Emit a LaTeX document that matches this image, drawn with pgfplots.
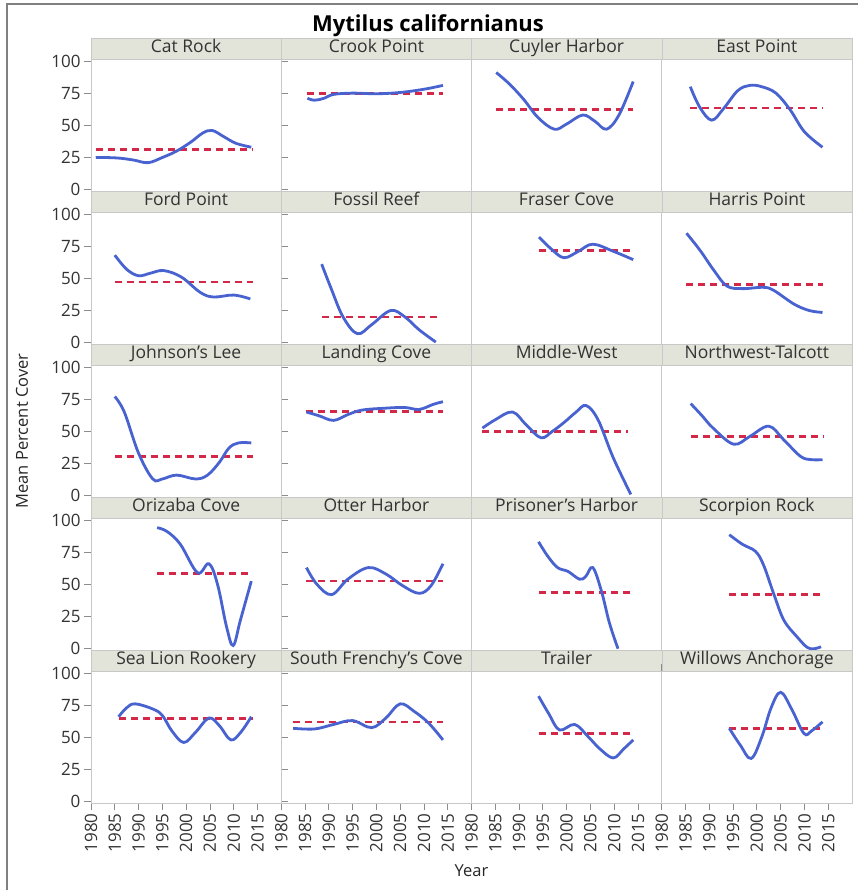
\documentclass[border=0pt]{standalone}
\usepackage{fontspec}
\setmainfont{Open Sans}
\usepackage{pgfplots}
\pgfplotsset{compat=1.18}
\usepgfplotslibrary{groupplots}

\definecolor{curve}{RGB}{72,98,208}
\definecolor{meanred}{RGB}{212,40,72}
\definecolor{strip}{RGB}{226,227,217}
\definecolor{frame}{RGB}{200,200,200}

\pgfplotsset{
  panel/.style={
    scale only axis, width=190.25pt, height=132pt,
    xmin=1980, xmax=2020, ymin=-1, ymax=101.5,
    xtick={1980,1985,...,2015}, ytick={0,25,50,75,100},
    tick align=outside, major tick length=7pt,
    tick style={black!45, line width=0.8pt},
    axis line style={frame, line width=0.8pt},
    /pgf/number format/1000 sep={},
    /pgf/number format/assume math mode=true,
    every tick label/.append style={font=\fontsize{17}{19}\selectfont, text=black!80},
    xticklabel style={rotate=90, anchor=east},
    every axis title/.style={at={(0.5,1)}, anchor=south, fill=strip, draw=frame,
      minimum width=190.25pt, minimum height=21pt, inner sep=0pt,
      text height=13pt, text depth=4pt,
      font=\fontsize{17.5}{20}\selectfont, text=black!80},
  },
  avg/.style={meanred, line width=2.6pt, dash pattern=on 7pt off 5pt},
  fit/.style={curve, line width=2.8pt, smooth, tension=0.6},
}

\begin{document}
\begin{tikzpicture}
\begin{groupplot}[group style={group size=4 by 5, horizontal sep=0pt, vertical sep=21pt}, panel]
% row 1
\nextgroupplot[title={Cat Rock}, xtick=\empty]
\addplot[avg] coordinates {(1981,31) (2014,31)};
\addplot[fit] coordinates {(1981,25) (1983,25) (1986,24.5) (1989,23) (1992,21) (1995,25) (1998,30) (2001,37) (2003.5,44) (2005.5,46) (2008,41) (2010.5,36) (2013.7,33)};
\nextgroupplot[title={Crook Point}, xtick=\empty, ytick=\empty]
\addplot[avg] coordinates {(1985.5,74.5) (2014,74.5)};
\addplot[fit] coordinates {(1985.5,71) (1987,69.5) (1989,71) (1991,74) (1995,75) (2000,74.5) (2005,75.5) (2010,78) (2014,81)};
\nextgroupplot[title={Cuyler Harbor}, xtick=\empty, ytick=\empty]
\addplot[avg] coordinates {(1985.2,62.5) (2014,62.5)};
\addplot[fit] coordinates {(1985.2,91) (1988,82) (1991,70) (1994,56) (1997.4,47) (2000,51) (2003.4,58) (2006,53) (2008.4,47) (2011,58) (2014,84)};
\nextgroupplot[title={East Point}, xtick=\empty, ytick=\empty]
\addplot[avg] coordinates {(1986,63.5) (2014,63.5)};
\addplot[fit] coordinates {(1986,80) (1988,64) (1990.5,54) (1993,63) (1996,77) (1998.5,81) (2001,80) (2004,75) (2007,62) (2010,45) (2013.8,33)};
% row 2
\nextgroupplot[title={Ford Point}, xtick=\empty]
\addplot[avg] coordinates {(1985,47) (2014,47)};
\addplot[fit] coordinates {(1985,68) (1987.5,57) (1990,52) (1992.5,54) (1995.3,56) (1999,51) (2003,39) (2005.8,35.5) (2010,37) (2013.5,34)};
\nextgroupplot[title={Fossil Reef}, xtick=\empty, ytick=\empty]
\addplot[avg] coordinates {(1988.5,20) (2013.5,20)};
\addplot[fit] coordinates {(1988.5,61) (1990.5,42) (1993,20) (1996,7) (1999,14) (2003,25) (2006,20) (2009,10) (2012.5,0.5)};
\nextgroupplot[title={Fraser Cove}, xtick=\empty, ytick=\empty]
\addplot[avg] coordinates {(1994.2,71.4) (2014,71.4)};
\addplot[fit] coordinates {(1994.2,82) (1997,72) (1999.5,66) (2002.5,71) (2005.5,76.5) (2009.8,71) (2014,64.5)};
\nextgroupplot[title={Harris Point}, xtick=\empty, ytick=\empty]
\addplot[avg] coordinates {(1985.2,45) (2014,45)};
\addplot[fit] coordinates {(1985.2,85) (1988,72) (1991,56) (1993.7,44) (1997,42) (2001.4,43) (2003.6,40.5) (2007.8,30) (2011,25) (2013.8,23.5)};
% row 3
\nextgroupplot[title={Johnson's Lee}, xtick=\empty]
\addplot[avg] coordinates {(1985,30.5) (2014,30.5)};
\addplot[fit] coordinates {(1985,77) (1987,65) (1990,33) (1993,13) (1995,13) (1998,16) (2002,13) (2004.5,16) (2007,26) (2009,37) (2011,41) (2013.7,41)};
\nextgroupplot[title={Landing Cove}, xtick=\empty, ytick=\empty]
\addplot[avg] coordinates {(1985.3,65.5) (2014,65.5)};
\addplot[fit] coordinates {(1985.3,65) (1988,62) (1991,58.5) (1994,63) (1997,66.5) (2002,68) (2006,68.5) (2009,67) (2012,71) (2014,73)};
\nextgroupplot[title={Middle-West}, xtick=\empty, ytick=\empty]
\addplot[avg] coordinates {(1982.3,50) (2013,50)};
\addplot[fit] coordinates {(1982.3,52.5) (1985,59) (1988.6,65) (1991.5,55) (1994.6,45) (1997,50) (1999.5,57) (2002,65) (2004.1,70) (2006.6,59) (2009.8,29.5) (2013.5,1)};
\nextgroupplot[title={Northwest-Talcott}, xtick=\empty, ytick=\empty]
\addplot[avg] coordinates {(1986.1,46) (2014,46)};
\addplot[fit] coordinates {(1986.1,71.5) (1988.5,62) (1990.8,52.5) (1995.1,40) (1998.5,46) (2002.5,54) (2005.6,43.6) (2009.2,30.5) (2011.5,28) (2013.8,28)};
% row 4
\nextgroupplot[title={Orizaba Cove}, xtick=\empty]
\addplot[avg] coordinates {(1993.9,58.5) (2014,58.5)};
\addplot[fit] coordinates {(1993.9,94) (1996,91) (1998.8,81) (2002.4,59) (2004.8,66) (2006.6,50) (2008.5,17) (2009.9,2.5) (2011.4,22) (2013.7,52.5)};
\nextgroupplot[title={Otter Harbor}, xtick=\empty, ytick=\empty]
\addplot[avg] coordinates {(1985.3,52.5) (2014,52.5)};
\addplot[fit] coordinates {(1985.3,63) (1987.5,50) (1990.6,42) (1994,54) (1998.3,63) (2002,58) (2005.5,49) (2009,43) (2011.5,49) (2014,66)};
\nextgroupplot[title={Prisoner's Harbor}, xtick=\empty, ytick=\empty]
\addplot[avg] coordinates {(1994.1,43.6) (2014,43.6)};
\addplot[fit] coordinates {(1994.1,83) (1996,72) (1998.1,63) (2000.3,60) (2002.7,54) (2004,56) (2005.5,63) (2007.3,45) (2009,20) (2010.8,0)};
\nextgroupplot[title={Scorpion Rock}, xtick=\empty, ytick=\empty]
\addplot[avg] coordinates {(1994.2,42) (2014,42)};
\addplot[fit] coordinates {(1994.2,88.5) (1997,81) (1999.7,75.6) (2001.4,65) (2003.6,42) (2005.7,22) (2008.5,9) (2010.6,1) (2012,0) (2013.5,1.5)};
% row 5
\nextgroupplot[title={Sea Lion Rookery}]
\addplot[avg] coordinates {(1985.8,64.5) (2014,64.5)};
\addplot[fit] coordinates {(1985.8,66) (1987.5,73) (1989.3,76) (1993,72) (1995,67) (1997,55) (1999.5,46) (2002,54) (2004.8,65) (2007,59) (2009.4,48) (2011.5,54) (2013.7,66)};
\nextgroupplot[title={South Frenchy's Cove}, ytick=\empty]
\addplot[avg] coordinates {(1982.5,62) (2014,62)};
\addplot[fit] coordinates {(1982.5,57) (1987,56.5) (1991,60) (1995,63) (1999,57.5) (2002,65) (2005,76) (2008,70) (2011,61) (2014,48)};
\nextgroupplot[title={Trailer}, ytick=\empty]
\addplot[avg] coordinates {(1994.1,53) (2014,53)};
\addplot[fit] coordinates {(1994.1,82) (1996.3,68) (1998.5,55.7) (2001.7,60) (2004.5,50.6) (2007,41) (2009.8,34) (2012,41) (2014,48)};
\nextgroupplot[title={Willows Anchorage}, ytick=\empty]
\addplot[avg] coordinates {(1994.2,57) (2014,57)};
\addplot[fit] coordinates {(1994.2,57) (1996.5,44) (1998.8,33.6) (2001,50) (2003,73) (2005,85) (2007.3,72) (2009.9,53) (2011.5,55) (2013.8,62)};
\end{groupplot}

% overall title and axis labels
\node[anchor=base, font=\bfseries\fontsize{22}{26}\selectfont]
  at ([xshift=337pt, yshift=27.3pt]group c1r1.north west) {Mytilus californianus};
\path (group c1r5.south west) -- (group c4r5.south east)
  node[midway, anchor=base, yshift=-73pt, font=\fontsize{16.5}{19}\selectfont, text=black!85] {Year};
\path (group c1r1.north west) -- (group c1r5.south west)
  node[midway, xshift=-69pt, rotate=90, font=\fontsize{16.5}{19}\selectfont, text=black!85] {Mean Percent Cover};

% outer frame (top and left edges)
\draw[black!50, line width=2pt]
  ([shift={(-84pt,-831pt)}]group c1r1.north west) -- ([shift={(-84pt,55pt)}]group c1r1.north west)
  -- ([shift={(767pt,55pt)}]group c1r1.north west);

\pgfresetboundingbox
\path[use as bounding box] ([shift={(-91pt,59pt)}]group c1r1.north west)
  rectangle ([shift={(767pt,-831pt)}]group c1r1.north west);
\end{tikzpicture}
\end{document}
